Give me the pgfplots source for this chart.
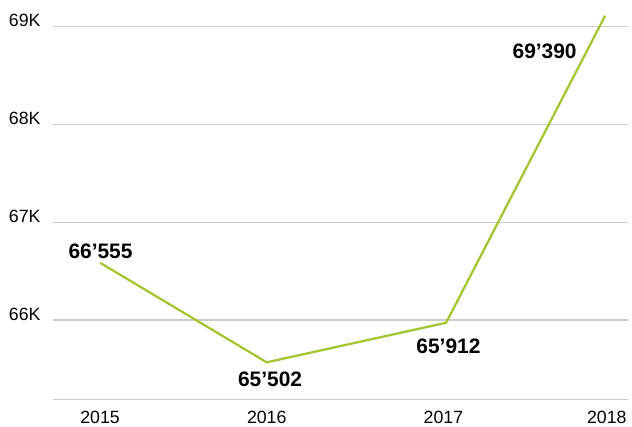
\documentclass[border=0pt]{standalone}
\usepackage{fontspec}
\setmainfont{Liberation Sans}
\usepackage{pgfplots}
\pgfplotsset{compat=1.18}
\definecolor{lime}{RGB}{166,197,52}
\definecolor{gridgray}{RGB}{204,204,204}

\begin{document}
\begin{tikzpicture}
\begin{axis}[
    scale only axis,
    width=575bp, height=399.3bp,
    xmin=-0.282, xmax=3.167,
    ymin=65189, ymax=69273,
    axis line style={draw=none},
    xtick={0,1,2.06,3.04},
    xticklabels={2015,2016,2017,2018},
    ytick={66000,67000,68000,69000},
    yticklabels={66K,67K,68K,69K},
    major tick length=0pt,
    ymajorgrids,
    grid style={gridgray, line width=1.2bp},
    tick label style={font=\fontsize{17.8}{20}\selectfont, text=black},
    yticklabel style={anchor=base east, xshift=-9bp},
    xticklabel style={anchor=base, yshift=-24.5bp},
    clip=false,
]
    % bottom rule
    \draw[gridgray, line width=1.2bp] (rel axis cs:0,0) -- (rel axis cs:1,0);

    \addplot[color=lime, line width=2.3bp, mark=none] coordinates {
        (0, 66586)
        (1, 65567)
        (2.076, 65972)
        (3.03, 69113)
    };

    \begin{scope}[every node/.style={font=\fontsize{21}{24}\selectfont\bfseries, inner sep=0pt}]
    \node at (axis cs:0.003, 66706) {66’555};
    \node at (axis cs:1.02, 65397) {65’502};
    \node at (axis cs:2.09, 65734) {65’912};
    \node at (axis cs:2.667, 68751) {69’390};
    \end{scope}
\end{axis}
\pgfresetboundingbox
\path (-53bp,-27.7bp) rectangle (579bp,399.3bp);
\end{tikzpicture}
\end{document}
